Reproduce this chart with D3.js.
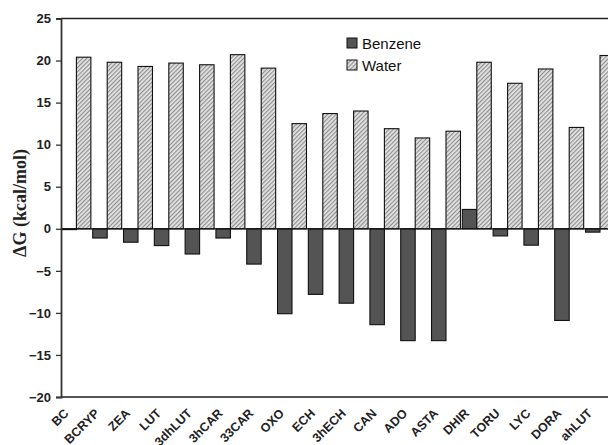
<!DOCTYPE html>
<html><head><meta charset="utf-8">
<script src="https://cdn.jsdelivr.net/npm/d3@7"></script>
<style>body{margin:0;background:#fff}svg{display:block}</style>
</head><body>
<script>
const categories = ["BC","BCRYP","ZEA","LUT","3dhLUT","3hCAR","33CAR","OXO","ECH","3hECH","CAN","ADO","ASTA","DHIR","TORU","LYC","DORA","ahLUT"];
const benzene = [-0.1,-1.1,-1.6,-2.0,-3.0,-1.1,-4.2,-10.1,-7.8,-8.85,-11.4,-13.3,-13.3,2.3,-0.85,-1.95,-10.9,-0.4];
const water = [20.4,19.8,19.3,19.7,19.5,20.7,19.1,12.5,13.7,14.0,11.9,10.8,11.6,19.8,17.3,19.0,12.05,20.6];
const seriesNames = ["Benzene","Water"];
const yTicks = [-20,-15,-10,-5,0,5,10,15,20,25];

(function(){
const W = 608, H = 445;
const svg = d3.select("body").append("svg").attr("width", W).attr("height", H);
const defs = svg.append("defs");
const pat = defs.append("pattern").attr("id","hatch").attr("patternUnits","userSpaceOnUse")
  .attr("width",3).attr("height",3).attr("patternTransform","rotate(45)");
pat.append("rect").attr("width",3).attr("height",3).attr("fill","#e4e4e4");
pat.append("line").attr("x1",0.6).attr("y1",0).attr("x2",0.6).attr("y2",3).attr("stroke","#8a8a8a").attr("stroke-width",1.1);

const pLeft = 61, pTop = 18.5, pBottom = 397, pRight = 61 + 18*30.8;
const x = d3.scaleBand().domain(categories).range([pLeft, pRight]).paddingInner(0.06).paddingOuter(0.03);
const xs = d3.scaleBand().domain(seriesNames).range([0, x.bandwidth()]);
const y = d3.scaleLinear().domain([-20, 25]).range([pBottom, pTop]);

svg.append("line").attr("x1",pLeft).attr("x2",W+10).attr("y1",y(25)).attr("y2",y(25)).attr("stroke","#222").attr("stroke-width",1.5);

const fills = {Benzene:"#545454", Water:"url(#hatch)"};
const vals = {Benzene: benzene, Water: water};
seriesNames.forEach(s => {
  svg.append("g").selectAll("rect").data(categories).join("rect")
    .attr("x", (c) => x(c) + xs(s))
    .attr("width", xs.bandwidth())
    .attr("y", (c,i) => y(Math.max(0, vals[s][i])))
    .attr("height", (c,i) => Math.abs(y(vals[s][i]) - y(0)))
    .attr("fill", fills[s]).attr("stroke","#111").attr("stroke-width",1.1);
});

svg.append("line").attr("x1",pLeft).attr("x2",W+10).attr("y1",y(0)).attr("y2",y(0)).attr("stroke","#111").attr("stroke-width",1.2);
svg.append("line").attr("x1",pLeft).attr("x2",W+10).attr("y1",y(-20)).attr("y2",y(-20)).attr("stroke","#555").attr("stroke-width",2);

const ya = svg.append("g").attr("transform",`translate(${pLeft},0)`)
  .call(d3.axisLeft(y).tickValues(yTicks).tickSize(5).tickPadding(5).tickFormat(d3.format("d")));
ya.select(".domain").attr("stroke","#333").attr("stroke-width",1.8);
ya.selectAll(".tick line").attr("stroke","#333").attr("stroke-width",1.3);
ya.selectAll("text").attr("font-family","Liberation Sans, Arial, sans-serif").attr("font-weight","bold")
  .attr("font-size","13px").attr("fill","#222");

svg.append("g").selectAll("text").data(categories).join("text")
  .attr("transform", c => `translate(${x(c) + x.bandwidth()/2 - 7},${pBottom + 17}) rotate(-45)`)
  .attr("text-anchor","end")
  .attr("font-family","Liberation Sans, Arial, sans-serif").attr("font-weight","bold")
  .attr("font-size","12.5px").attr("fill","#222")
  .text(c => c);

svg.append("text").attr("transform",`translate(26,203) rotate(-90)`).attr("text-anchor","middle")
  .attr("font-family","Liberation Serif, Times New Roman, serif").attr("font-weight","bold")
  .attr("font-size","18px").attr("fill","#222").text("ΔG (kcal/mol)");

const lg = svg.append("g").attr("transform","translate(347,38)");
seriesNames.forEach((s,i) => {
  lg.append("rect").attr("x",0).attr("y",i*22).attr("width",10).attr("height",10)
    .attr("fill",fills[s]).attr("stroke","#111").attr("stroke-width",1);
  lg.append("text").attr("x",15).attr("y",i*22+10.5).attr("font-family","Liberation Sans, Arial, sans-serif")
    .attr("font-size","15px").attr("fill","#111").text(s);
});
})();
</script>
</body></html>
